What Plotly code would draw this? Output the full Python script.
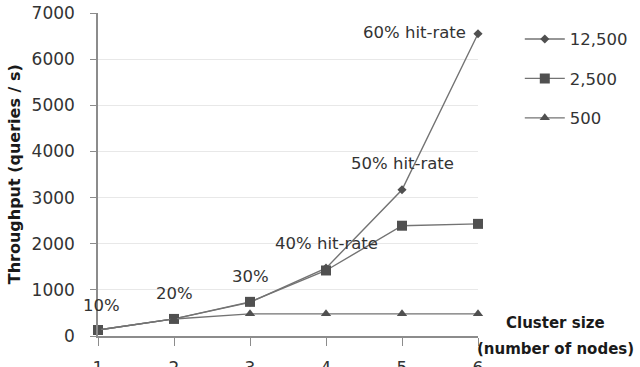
import plotly.graph_objects as go

# Cluster size (number of nodes)
nodes = [1, 2, 3, 4, 5, 6]

# Throughput (queries / s) for each key-space size
series_names = ["12,500", "2,500", "500"]
tput_12500 = [130, 370, 730, 1470, 3170, 6550]
tput_2500 = [130, 370, 740, 1420, 2390, 2430]
tput_500 = [130, 370, 480, 480, 480, 480]

# Hit-rate labels placed along the curves
hit_labels = ["10%", "20%", "30%", "40% hit-rate", "50% hit-rate", "60% hit-rate"]
hit_x = [1.05, 2.01, 3.01, 4.01, 5.0, 5.17]
hit_y = [670, 930, 1300, 2015, 3730, 6570]

y_ticks = [0, 1000, 2000, 3000, 4000, 5000, 6000, 7000]

FONT = "DejaVu Sans"
LINE_COLOR = "#737373"
MARK_COLOR = "#505050"
TEXT_COLOR = "#333333"

fig = go.Figure()
symbols = ["diamond", "square", "triangle-up"]
sizes = [7, 10, 9]
for name, vals, sym, sz in zip(series_names, [tput_12500, tput_2500, tput_500], symbols, sizes):
    fig.add_trace(go.Scatter(
        x=nodes, y=vals, name=name, mode="lines+markers",
        line=dict(color=LINE_COLOR, width=1.4),
        marker=dict(symbol=sym, size=sz, color=MARK_COLOR),
        cliponaxis=False, legendgroup=name,
    ))

for txt, x, y in zip(hit_labels, hit_x, hit_y):
    fig.add_annotation(
        x=x, y=y, text=txt, showarrow=False, xanchor="center",
        font=dict(family=FONT, size=16.5, color=TEXT_COLOR),
    )

# Axis titles
fig.add_annotation(
    xref="paper", yref="paper", x=-0.219, y=0.5, text="<b>Throughput (queries / s)</b>",
    textangle=-90, showarrow=False, xanchor="center", yanchor="middle",
    font=dict(family=FONT, size=16, color="#1a1a1a"),
)
fig.add_annotation(
    xref="paper", yref="paper", x=1.203, y=0.04, text="<b>Cluster size</b>",
    showarrow=False, xanchor="center", yanchor="middle",
    font=dict(family=FONT, size=15, color="#1a1a1a"),
)
fig.add_annotation(
    xref="paper", yref="paper", x=1.203, y=-0.04, text="<b>(number of nodes)</b>",
    showarrow=False, xanchor="center", yanchor="middle",
    font=dict(family=FONT, size=15, color="#1a1a1a"),
)

fig.update_layout(
    width=640, height=367,
    margin=dict(l=98, r=162, t=13, b=31, autoexpand=False),
    paper_bgcolor="white", plot_bgcolor="white",
    font=dict(family=FONT, size=16, color=TEXT_COLOR),
    showlegend=True,
    legend=dict(
        x=1.11, y=0.973, xanchor="left", yanchor="top",
        font=dict(family=FONT, size=16.5, color=TEXT_COLOR),
        tracegroupgap=15, itemwidth=40,
        bgcolor="rgba(0,0,0,0)",
    ),
)
fig.update_xaxes(
    range=[1, 6], tickvals=nodes, showgrid=False, zeroline=False,
    showline=True, linecolor="#8c8c8c", linewidth=1.5,
    ticks="outside", ticklen=8, tickcolor="#8c8c8c", tickwidth=1.2,
    ticklabelstandoff=8, automargin=False,
    tickfont=dict(family=FONT, size=17, color=TEXT_COLOR),
)
fig.update_yaxes(
    range=[0, 7000], tickvals=y_ticks, showgrid=True, gridcolor="#e8e8e8",
    zeroline=False, showline=True, linecolor="#8c8c8c", linewidth=1.5,
    ticks="outside", ticklen=6, tickcolor="#8c8c8c", tickwidth=1.2,
    ticklabelstandoff=12, automargin=False,
    tickfont=dict(family=FONT, size=17, color=TEXT_COLOR),
)

fig.write_html("out.html")
